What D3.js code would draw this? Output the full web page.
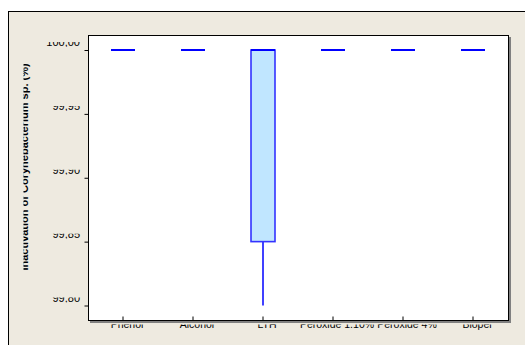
<!DOCTYPE html>
<html>
<head>
<meta charset="utf-8">
<script src="https://cdn.jsdelivr.net/npm/d3@7"></script>
<style>
  body { margin: 0; background: #fff; }
  svg { display: block; }
  text { font-family: "Liberation Sans", Arial, sans-serif; fill: #000; }
</style>
</head>
<body>
<div id="chart"></div>
<script>
// categories and box statistics (% inactivation)
const categories = ["Phenol", "Alcohol", "LTH", "Peroxide 1.10%", "Peroxide 4%", "Biopel"];
const minValues    = [100, 100, 99.80, 100, 100, 100];
const q1Values     = [100, 100, 99.85, 100, 100, 100];
const medianValues = [100, 100, 100, 100, 100, 100];
const q3Values     = [100, 100, 100, 100, 100, 100];
const maxValues    = [100, 100, 100, 100, 100, 100];
const yTicks = [100.00, 99.95, 99.90, 99.85, 99.80];

const data = categories.map((c, i) => ({
    cat: c, min: minValues[i], q1: q1Values[i], med: medianValues[i], q3: q3Values[i], max: maxValues[i]
}));

const W = 525, H = 345;
const plot = {left: 88, top: 35, right: 508, bottom: 320};
const fmt = d => d3.format(".2f")(d).replace(".", ",");

const svg = d3.select("#chart").append("svg")
    .attr("width", W)
    .attr("height", H);

// outer beige panel
svg.append("rect")
    .attr("x", 8.5).attr("y", 11.5)
    .attr("width", W).attr("height", H)
    .attr("fill", "#eeeae0")
    .attr("stroke", "#000");

// scales
const x = d3.scaleBand()
    .domain(categories)
    .range([plot.left, plot.right])
    .padding(0);

const y = d3.scaleLinear()
    .domain([99.80, 100.00])
    .range([305.5, 50]);

// plot area with shadow on right/bottom
svg.append("rect")
    .attr("x", plot.left + 2).attr("y", plot.top + 2)
    .attr("width", plot.right - plot.left + 1).attr("height", plot.bottom - plot.top + 1)
    .attr("fill", "#808080");
svg.append("rect")
    .attr("x", plot.left + 0.5).attr("y", plot.top + 0.5)
    .attr("width", plot.right - plot.left).attr("height", plot.bottom - plot.top)
    .attr("fill", "#fff")
    .attr("stroke", "#000");

// clip paths: the labels in the original are only half drawn
const defs = svg.append("defs");
const yClip = defs.append("clipPath").attr("id", "yclip");
yTicks.forEach(t => {
    yClip.append("rect")
        .attr("x", 30).attr("y", y(t) - 8)
        .attr("width", 55).attr("height", 5);
});
defs.append("clipPath").attr("id", "xclip")
    .append("rect")
    .attr("x", 90).attr("y", plot.bottom + 4.5)
    .attr("width", 430).attr("height", 8);
defs.append("clipPath").attr("id", "tclip")
    .append("rect")
    .attr("x", 23.5).attr("y", 20)
    .attr("width", 10).attr("height", 300);

// y axis ticks
const yAxis = svg.append("g")
    .attr("transform", `translate(${plot.left + 0.5},0)`)
    .call(d3.axisLeft(y).tickValues(yTicks).tickSize(4).tickSizeOuter(0).tickFormat(""));
yAxis.select(".domain").remove();
yAxis.selectAll(".tick line").attr("stroke", "#000");

svg.append("g")
    .attr("clip-path", "url(#yclip)")
    .selectAll("text")
    .data(yTicks)
    .join("text")
    .attr("x", plot.left - 8)
    .attr("y", d => y(d) - 4)
    .attr("text-anchor", "end")
    .attr("font-size", 11)
    .text(fmt);

// x axis ticks
const xAxis = svg.append("g")
    .attr("transform", `translate(0,${plot.bottom + 0.5})`)
    .call(d3.axisBottom(x).tickSize(-4).tickSizeOuter(0).tickFormat(""));
xAxis.select(".domain").remove();
xAxis.selectAll(".tick line").attr("stroke", "#000");

svg.append("g")
    .attr("clip-path", "url(#xclip)")
    .selectAll("text")
    .data(categories)
    .join("text")
    .attr("x", d => x(d) + x.bandwidth() / 2 + 4)
    .attr("y", plot.bottom + 8)
    .attr("text-anchor", "middle")
    .attr("font-size", 10.5)
    .text(d => d);

// y title
svg.append("g")
    .attr("clip-path", "url(#tclip)")
    .append("text")
    .attr("transform", `translate(28,167)rotate(-90)`)
    .attr("text-anchor", "middle")
    .attr("font-size", 11)
    .attr("font-weight", "bold")
    .text("Inactivation of Corynebacterium sp. (%)");

// boxes
const boxW = 24;
const boxes = svg.append("g")
    .selectAll("g")
    .data(data)
    .join("g")
    .attr("transform", d => `translate(${x(d.cat) + x.bandwidth() / 2},0)`);

boxes.append("line")
    .attr("x1", 0).attr("x2", 0)
    .attr("y1", d => y(d.min)).attr("y2", d => y(d.q1))
    .attr("stroke", "#0000ff")
    .attr("stroke-width", 1.5);

boxes.append("line")
    .attr("x1", 0).attr("x2", 0)
    .attr("y1", d => y(d.q3)).attr("y2", d => y(d.max))
    .attr("stroke", "#0000ff")
    .attr("stroke-width", 1.5);

boxes.filter(d => d.q3 > d.q1)
    .append("rect")
    .attr("x", -boxW / 2)
    .attr("y", d => y(d.q3))
    .attr("width", boxW)
    .attr("height", d => y(d.q1) - y(d.q3))
    .attr("fill", "#c0e6ff")
    .attr("stroke", "#3333ff")
    .attr("stroke-width", 1.6);

boxes.append("line")
    .attr("x1", -boxW / 2).attr("x2", boxW / 2)
    .attr("y1", d => y(d.med)).attr("y2", d => y(d.med))
    .attr("stroke", "#0000ff")
    .attr("stroke-width", 2);
</script>
</body>
</html>
